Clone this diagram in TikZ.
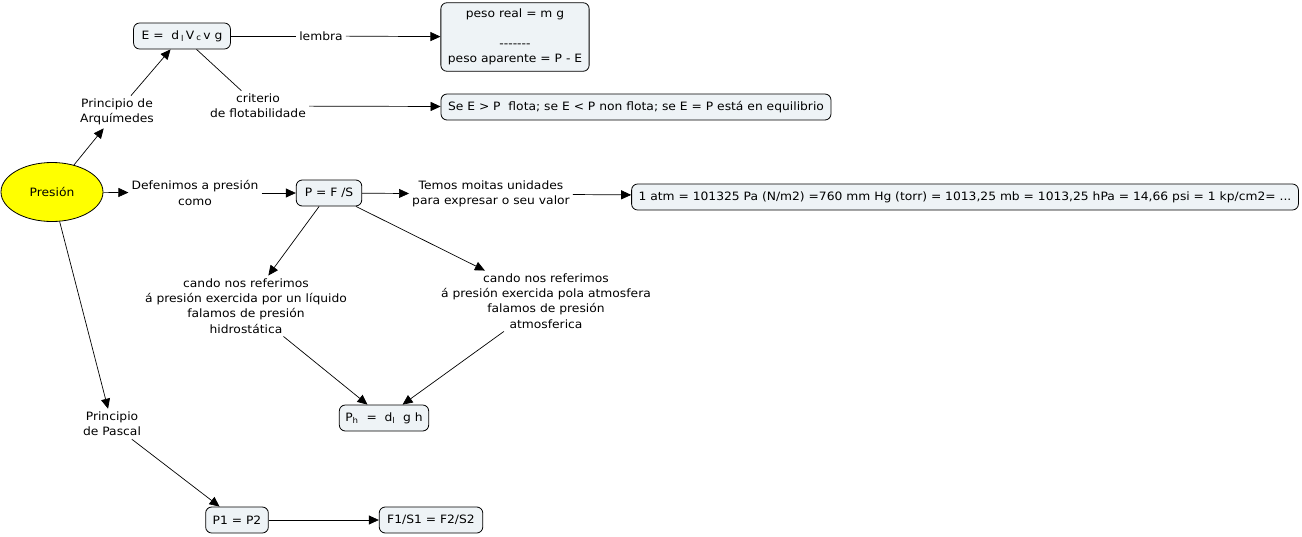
\documentclass[tikz,border=0pt]{standalone}
\usepackage{fontspec}
\setmainfont{DejaVu Sans}[FakeStretch=1.07]
\usetikzlibrary{arrows.meta,positioning,shapes.geometric}

\definecolor{conceptfill}{RGB}{238,243,246}
\definecolor{mainfill}{RGB}{255,255,0}

\tikzset{
  concept/.style={draw=black,line width=0.8pt,rounded corners=6pt,fill=conceptfill,
    inner xsep=7pt,inner ysep=5pt,minimum height=26pt,align=center},
  mainconcept/.style={draw=black,line width=0.8pt,ellipse,fill=mainfill,
    minimum width=102pt,minimum height=59pt},
  linkphrase/.style={align=center,inner sep=3pt},
  link/.style={line width=0.7pt},
  linkto/.style={line width=0.7pt,-{Triangle[length=10pt,width=9pt]}}
}

\begin{document}
\begin{tikzpicture}[x=1pt,y=-1pt,font=\fontsize{11.5}{15.2}\selectfont]
\useasboundingbox (0,0) rectangle (1302,536);
% concepts
\node[mainconcept] (presion) at (52,192) {Presi\'on};
\node[concept,inner xsep=8pt] (arq) at (182,36) {E = \ d\,\textsubscript{l}\,V\,\textsubscript{c}\,v g};
\node[concept,inner ysep=6.5pt] (peso) at (515,37) {peso real = m g\\[14pt]-{}-{}-{}-{}-{}-{}-\\peso aparente = P - E};
\node[concept] (flota) at (636,107) {Se E > P\ \ flota; se E < P non flota; se E = P est\'a en equilibrio};
\node[concept,inner xsep=8.5pt] (pfs) at (329,193) {P = F /S};
\node[concept] (atm) at (965,197) {1 atm = 101325 Pa (N/m2) =760 mm Hg (torr) = 1013,25 mb = 1013,25 hPa = 14,66 psi = 1 kp/cm2= ...};
\node[concept,inner xsep=6pt] (ph) at (384,418) {P\textsubscript{h} \ = \ d\textsubscript{l} \ g h};
\node[concept] (pp) at (237,520) {P1 = P2};
\node[concept,inner xsep=8pt] (fs) at (431,520) {F1/S1 = F2/S2};
% linking phrases
\node[linkphrase] (lembra) at (321,36) {lembra};
\node[linkphrase] (parq) at (117,112) {Principio de\\Arqu\'imedes};
\node[linkphrase] (criterio) at (258,106) {criterio\\de flotabilidade};
\node[linkphrase] (defen) at (195,193) {Defenimos a presi\'on\\como};
\node[linkphrase] (temos) at (491,194) {Temos moitas unidades\\para expresar o seu valor};
\node[linkphrase] (liquido) at (246,306) {cando nos referimos\\\'a presi\'on exercida por un l\'iquido\\falamos de presi\'on\\hidrost\'atica};
\node[linkphrase] (atmos) at (546,301) {cando nos referimos\\\'a presi\'on exercida pola atmosfera\\falamos de presi\'on\\atmosferica};
\node[linkphrase] (pascal) at (112,424) {Principio\\de Pascal};
% connectors
\draw[linkto] (presion) -- (parq);
\draw[linkto] (parq) -- (arq);
\draw[link] (arq) -- (lembra);
\draw[linkto] (lembra) -- (peso);
\draw[link] (arq) -- (criterio);
\draw[linkto] (criterio) -- (flota);
\draw[linkto] (presion) -- (defen);
\draw[linkto] (defen) -- (pfs);
\draw[linkto] (pfs) -- (temos);
\draw[linkto] (temos) -- (atm);
\draw[linkto] (pfs) -- (liquido);
\draw[linkto] (liquido) -- (ph);
\draw[linkto] (pfs) -- (atmos);
\draw[linkto] (atmos) -- (ph);
\draw[linkto] (presion) -- (pascal);
\draw[linkto] (pascal) -- (pp);
\draw[linkto] (pp) -- (fs);
\end{tikzpicture}
\end{document}
